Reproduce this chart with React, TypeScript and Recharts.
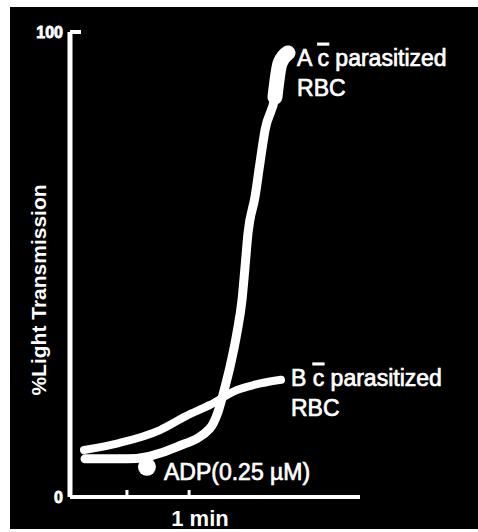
import { LineChart, Line, XAxis, YAxis, ReferenceDot, LabelList } from 'recharts'

// trace A c̄ parasitized RBC (time in s, % light transmission)
const timeA = [14.5, 55, 103.3, 135.2, 142.9, 149.7, 154.5, 161.2, 166.1, 169, 171.9, 178.6, 183.4, 188.3, 197.9, 202.8, 210.5]
const transA = [8.2, 8.2, 10.8, 14.8, 18.3, 23.7, 28.0, 35.3, 42.4, 49.5, 56.8, 64.5, 71.8, 78.9, 86.0, 93.3, 95.5]

// trace B c̄ parasitized RBC
const timeB = [13.5, 47.3, 86.9, 112, 135.2, 161.2, 177.7, 203.7]
const transB = [10.1, 11.6, 14.4, 17.4, 19.8, 23.0, 24.1, 25.2]

// ADP addition marker
const adpTime = 74.3
const adpTrans = 6.5

const xTicks = [55, 115]
const yTicks = [0, 100]

const seriesA = timeA.map((t, i) => ({ t, v: transA[i] }))
const seriesB = timeB.map((t, i) => ({ t, v: transB[i] }))
// the pen trace gets thicker near the top of A
const seriesATop = seriesA.filter((d) => d.v >= 85)

const FONT = '"Liberation Sans", Arial, sans-serif'

function YTick({ x, y, payload }: any) {
  return (
    <g>
      {payload.value === 100 && (
        <line x1={x} x2={x + 11} y1={y} y2={y} stroke="#fff" strokeWidth={4} />
      )}
      <text x={x - 7} y={y + 6} textAnchor="end" fill="#fff" stroke="#fff" strokeWidth={0.8} fontSize={16} fontWeight={700} fontFamily={FONT}>
        {payload.value}
      </text>
    </g>
  )
}

function XTick({ x, y }: any) {
  return <line x1={x} x2={x} y1={y} y2={y - 7} stroke="#fff" strokeWidth={3} />
}

function endLabel(letter: string, dx: number, dy: number, last: number) {
  return (props: any) => {
    if (props.index !== last) return null
    const x = props.x + dx
    const y = props.y + dy
    return (
      <g fill="#fff" stroke="#fff" strokeWidth={0.7} fontSize={23} fontFamily={FONT}>
        <text x={x} y={y}>
          {letter}{' '}
          <tspan style={{ textDecoration: 'overline' }}>c</tspan> parasitized
        </text>
        <text x={x} y={y + 30}>RBC</text>
      </g>
    )
  }
}

export default function App() {
  return (
    <div style={{ position: 'absolute', left: 0, top: 0, width: 478, height: 532, background: '#fff' }}>
      <div style={{ position: 'absolute', left: 10, top: 7, width: 468, height: 522, background: '#000' }} />
      <div style={{ position: 'absolute', left: 0, top: 0 }}>
        <LineChart width={478} height={532} margin={{ top: 32, right: 118, left: 0, bottom: 0 }}>
          <XAxis
            dataKey="t"
            type="number"
            domain={[0, 280]}
            ticks={xTicks}
            height={35}
            tickSize={0}
            tickMargin={0}
            tick={(p: any) => <XTick {...p} />}
            axisLine={{ stroke: '#fff', strokeWidth: 4 }}
            allowDataOverflow
            label={{
              content: () => (
                <text x={200} y={526} textAnchor="middle" fill="#fff" fontSize={22} fontWeight={700} fontFamily={FONT}>
                  1 min
                </text>
              ),
            }}
          />
          <YAxis
            dataKey="v"
            type="number"
            domain={[0, 100]}
            ticks={yTicks}
            width={70}
            tickSize={0}
            tickMargin={0}
            tick={(p: any) => <YTick {...p} />}
            axisLine={{ stroke: '#fff', strokeWidth: 5 }}
            label={{
              content: () => (
                <text
                  x={38}
                  y={290}
                  transform="rotate(-90 38 290)"
                  textAnchor="middle"
                  dominantBaseline="central"
                  fill="#fff"
                  fontSize={21}
                  fontWeight={700}
                  fontFamily={FONT}
                >
                  %Light Transmission
                </text>
              ),
            }}
          />
          <Line
            data={seriesB}
            dataKey="v"
            type="monotone"
            stroke="#fff"
            strokeWidth={8}
            strokeLinecap="round"
            dot={false}
            isAnimationActive={false}
          >
            <LabelList dataKey="v" content={endLabel('B', 10, 6, seriesB.length - 1)} />
          </Line>
          <Line
            data={seriesA}
            dataKey="v"
            type="monotone"
            stroke="#fff"
            strokeWidth={9}
            strokeLinecap="round"
            dot={false}
            isAnimationActive={false}
          >
            <LabelList dataKey="v" content={endLabel('A', 9, 13, seriesA.length - 1)} />
          </Line>
          <Line
            data={seriesATop}
            dataKey="v"
            type="monotone"
            stroke="#fff"
            strokeWidth={15}
            strokeLinecap="round"
            dot={false}
            isAnimationActive={false}
          />
          <ReferenceDot
            x={adpTime}
            y={adpTrans}
            r={9}
            fill="#fff"
            stroke="none"
            label={{
              content: (p: any) => (
                <text
                  x={p.viewBox.x + p.viewBox.width / 2 + 17}
                  y={p.viewBox.y + p.viewBox.height / 2 + 13}
                  fill="#fff"
                  stroke="#fff"
                  strokeWidth={0.7}
                  fontSize={23}
                  fontFamily={FONT}
                >
                  ADP(0.25 µM)
                </text>
              ),
            }}
          />
        </LineChart>
      </div>
    </div>
  )
}
